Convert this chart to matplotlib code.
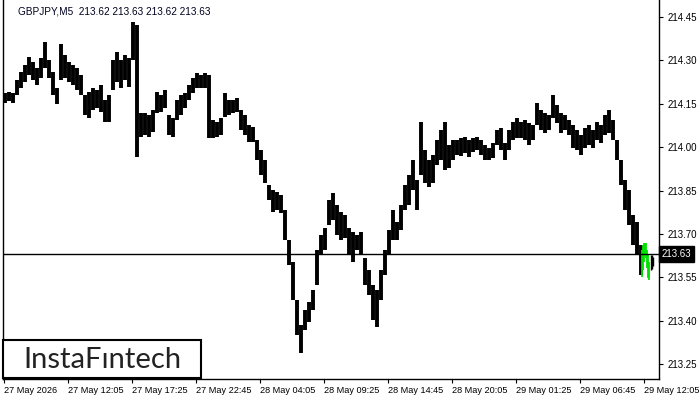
import matplotlib
matplotlib.use("Agg")
import matplotlib.pyplot as plt
from matplotlib.patches import Rectangle
import numpy as np

# GBPJPY M5, each entry = high/low of a 4-bar (20 min) block
highs = [214.187, 214.191, 214.187, 214.232, 214.260, 214.284, 214.312, 214.295, 214.274, 214.308,
         214.365, 214.301, 214.260, 214.205, 214.357, 214.319, 214.295, 214.284, 214.274, 214.250,
         214.180, 214.191, 214.205, 214.198, 214.215, 214.163, 214.180, 214.301, 214.329, 214.301,
         214.319, 214.308, 214.433, 214.423, 214.118, 214.118, 214.111, 214.129, 214.191, 214.180,
         214.198, 214.111, 214.101, 214.163, 214.180, 214.187, 214.215, 214.239, 214.256, 214.250,
         214.256, 214.250, 214.094, 214.087, 214.101, 214.187, 214.163, 214.163, 214.170, 214.129,
         214.111, 214.077, 214.070, 214.025, 213.990, 213.956, 213.869, 213.852, 213.845, 213.835,
         213.783, 213.679, 213.603, 213.472, 213.385, 213.437, 213.465, 213.506, 213.645, 213.696,
         213.721, 213.817, 213.842, 213.800, 213.776, 213.766, 213.721, 213.707, 213.696, 213.707,
         213.617, 213.575, 213.523, 213.506, 213.575, 213.645, 213.714, 213.783, 213.742, 213.800,
         213.869, 213.904, 213.956, 213.887, 214.087, 213.990, 213.956, 213.973, 214.025, 214.059,
         214.087, 214.008, 214.025, 214.025, 214.032, 214.035, 214.025, 214.032, 214.035, 214.025,
         214.008, 213.997, 214.014, 214.059, 214.066, 214.014, 214.059, 214.087, 214.101, 214.087,
         214.094, 214.084, 214.077, 214.153, 214.129, 214.118, 214.111, 214.180, 214.146, 214.118,
         214.111, 214.094, 214.077, 214.059, 214.042, 214.066, 214.077, 214.059, 214.087, 214.077,
         214.111, 214.129, 214.094, 214.025, 213.956, 213.887, 213.852, 213.766, 213.742, 213.662]
lows = [214.153, 214.160, 214.153, 214.180, 214.205, 214.225, 214.250, 214.232, 214.215, 214.239,
        214.274, 214.239, 214.180, 214.149, 214.232, 214.239, 214.225, 214.215, 214.198, 214.180,
        214.111, 214.101, 214.129, 214.136, 214.122, 214.087, 214.087, 214.198, 214.225, 214.205,
        214.232, 214.208, 214.301, 213.966, 214.035, 214.042, 214.035, 214.052, 214.118, 214.122,
        214.136, 214.042, 214.035, 214.094, 214.111, 214.136, 214.163, 214.187, 214.205, 214.205,
        214.205, 214.032, 214.032, 214.035, 214.042, 214.104, 214.111, 214.118, 214.122, 214.059,
        214.042, 214.018, 214.018, 213.956, 213.904, 213.876, 213.817, 213.776, 213.783, 213.772,
        213.679, 213.593, 213.472, 213.351, 213.288, 213.368, 213.396, 213.437, 213.523, 213.627,
        213.645, 213.731, 213.748, 213.696, 213.679, 213.686, 213.627, 213.603, 213.645, 213.627,
        213.523, 213.489, 213.403, 213.378, 213.472, 213.558, 213.627, 213.679, 213.679, 213.714,
        213.783, 213.800, 213.852, 213.783, 213.904, 213.876, 213.862, 213.876, 213.938, 213.956,
        213.921, 213.928, 213.956, 213.973, 213.970, 213.980, 213.966, 213.983, 213.990, 213.973,
        213.956, 213.956, 213.963, 214.008, 213.990, 213.956, 213.990, 214.025, 214.032, 214.032,
        214.025, 214.008, 214.025, 214.077, 214.059, 214.049, 214.059, 214.101, 214.084, 214.049,
        214.059, 214.042, 213.997, 213.990, 213.973, 213.997, 214.008, 213.997, 214.025, 214.014,
        214.042, 214.049, 214.025, 213.956, 213.869, 213.783, 213.731, 213.662, 213.627, 213.558]

# last bars (single 5-min bars), highlighted green
green_hi = [213.645, 213.662, 213.669, 213.669, 213.669, 213.645, 213.627, 213.603]
green_lo = [213.551, 213.575, 213.603, 213.627, 213.617, 213.582, 213.548, 213.541]
tail_hi = [213.627, 213.627, 213.620]
tail_lo = [213.575, 213.580, 213.590]

last_price = 213.63
x_labels = ["27 May 2026", "27 May 12:05", "27 May 17:25", "27 May 22:45", "28 May 04:05",
            "28 May 09:25", "28 May 14:45", "28 May 20:05", "29 May 01:25", "29 May 06:45",
            "29 May 12:05"]
y_ticks = [213.25, 213.40, 213.55, 213.70, 213.85, 214.00, 214.15, 214.30, 214.45]

plt.rcParams["font.family"] = ["Liberation Sans", "DejaVu Sans"]

fig = plt.figure(figsize=(7, 4), dpi=100)
ax = fig.add_axes([3 / 700, 1 - 379 / 400, 656 / 700, 379 / 400])

xb = np.arange(len(highs)) * 4 + 1.5
ax.vlines(xb, lows, highs, color="black", linewidth=2.8)
xg = np.arange(len(green_hi)) + 638
ax.vlines(xg, green_lo, green_hi, color="#00e000", linewidth=1.3)
xt = np.arange(len(tail_hi)) + 647
ax.vlines(xt, tail_lo, tail_hi, color="black", linewidth=1.0)

ax.axhline(last_price, color="black", linewidth=1.0)

ax.set_xlim(-0.5, 655.5)
ax.set_ylim(213.199, 214.509)

ax.set_xticks(np.arange(len(x_labels)) * 64)
ax.set_xticklabels(x_labels, ha="left", fontsize=6.6)
ax.tick_params(axis="x", length=3, width=0.8, pad=2, direction="out")

ax.yaxis.tick_right()
ax.set_yticks(y_ticks)
ax.set_yticklabels(["%.2f" % v for v in y_ticks], fontsize=7)
ax.tick_params(axis="y", length=3, width=0.8, pad=3, direction="out")

ax.spines["top"].set_visible(False)
for s in ["left", "right", "bottom"]:
    ax.spines[s].set_linewidth(1.0)

# current price box
ax.text(1.004, last_price, "%.2f" % last_price, transform=ax.get_yaxis_transform(),
        ha="left", va="center", fontsize=7, color="white",
        bbox=dict(boxstyle="square,pad=0.3", facecolor="black", edgecolor="black"))

fig.text(18 / 700, 1 - 11 / 400, "GBPJPY,M5  213.62 213.63 213.62 213.63",
         fontsize=7.2, va="center", ha="left", color="#000020")

# logo box
fig.patches.append(Rectangle((3 / 700, 1 - 378 / 400), 198 / 700, 38 / 400,
                             transform=fig.transFigure, facecolor="white",
                             edgecolor="black", linewidth=1.5, zorder=5))
fig.text(102 / 700, 1 - 360 / 400, "InstaF\u0131ntech", fontsize=21, ha="center",
         va="center", color="#222222", family=["Lato", "DejaVu Sans"], zorder=6)

fig.savefig("out.png", dpi=100)
